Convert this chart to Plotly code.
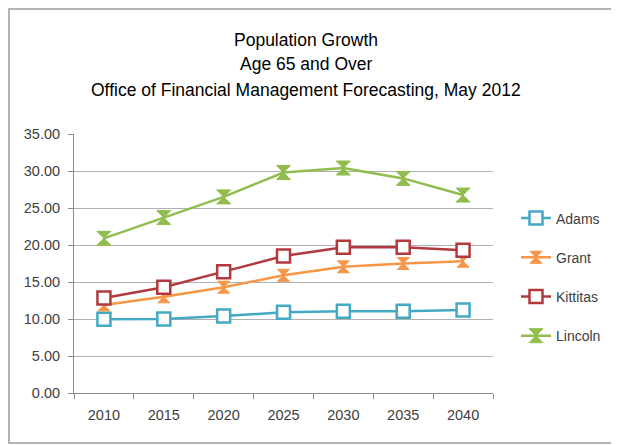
import plotly.graph_objects as go

years = ["2010", "2015", "2020", "2025", "2030", "2035", "2040"]
adams = [9.97, 10.0, 10.4, 10.9, 11.05, 11.05, 11.2]
grant = [11.9, 13.0, 14.3, 15.9, 17.05, 17.5, 17.8]
kittitas = [12.85, 14.3, 16.4, 18.5, 19.7, 19.7, 19.3]
lincoln = [20.9, 23.7, 26.5, 29.8, 30.4, 29.0, 26.75]
yticks = [0, 5, 10, 15, 20, 25, 30, 35]

series = [
    ("Adams", adams, "#45A9C4", "square", 13),
    ("Grant", grant, "#F79646", "hourglass", 12),
    ("Kittitas", kittitas, "#B23A3E", "square", 13),
    ("Lincoln", lincoln, "#92BD4E", "hourglass", 14),
]

fig = go.Figure()
for i, (name, vals, col, sym, sz) in enumerate(series):
    if sym == "square":
        marker = dict(symbol="square", size=sz, color="white",
                      line=dict(color=col, width=2.5))
    else:
        marker = dict(symbol="hourglass", size=sz, color=col,
                      line=dict(color=col, width=1))
    fig.add_trace(go.Scatter(
        x=years, y=vals, name=name, mode="lines+markers",
        line=dict(color=col, width=2.5), marker=marker,
        legendgroup=f"g{i}",
    ))

# page body has an 8px margin: figure coordinates = screen - 8
OFF = 8
W, H = 619 - OFF, 445 - OFF
L, R, T, B = 74 - OFF, 493 - OFF, 134 - OFF, 393 - OFF
pw, ph = R - L, B - T

def px(x):
    return (x - OFF - L) / pw

def py(y):
    return (B - (y - OFF)) / ph

fig.add_shape(type="rect", xref="paper", yref="paper",
              x0=px(9), x1=px(617), y0=py(443), y1=py(9),
              line=dict(color="#9a9a9a", width=1.5), fillcolor="rgba(0,0,0,0)",
              layer="below")

FONT = "Liberation Sans, Arial"
titles = [("Population Growth", 40), ("Age 65 and Over", 64),
          ("Office of Financial Management Forecasting, May 2012", 90)]
for txt, yy in titles:
    fig.add_annotation(text=txt, xref="paper", yref="paper",
                       x=px(306), y=py(yy), showarrow=False,
                       xanchor="center", yanchor="middle",
                       font=dict(family=FONT, size=17.5, color="#000000"))

fig.update_layout(
    width=W, height=H,
    margin=dict(l=L, r=W - R, t=T, b=H - B),
    paper_bgcolor="white", plot_bgcolor="white",
    font=dict(family=FONT, size=14, color="#404040"),
    showlegend=True,
    legend=dict(x=px(516), y=py(277), xanchor="left", yanchor="middle",
                traceorder="grouped", tracegroupgap=18,
                font=dict(size=14, color="#404040"), itemwidth=30),
)
fig.update_xaxes(type="category", range=[-0.5, 6.5], showgrid=False,
                 showline=True, linecolor="#8c8c8c", linewidth=1,
                 ticks="outside", tickson="boundaries", ticklen=5, tickcolor="#8c8c8c",
                 ticklabelstandoff=9,
                 tickfont=dict(size=14.5, color="#404040"))
fig.update_yaxes(range=[0, 35], tickvals=yticks, tickformat=".2f",
                 showgrid=True, gridcolor="#b0b0b0", gridwidth=1,
                 showline=True, linecolor="#8c8c8c", linewidth=1,
                 ticks="outside", ticklen=5, tickcolor="#8c8c8c",
                 ticklabelstandoff=5,
                 zeroline=False, tickfont=dict(size=14.5, color="#404040"))

fig.write_html("out.html")
